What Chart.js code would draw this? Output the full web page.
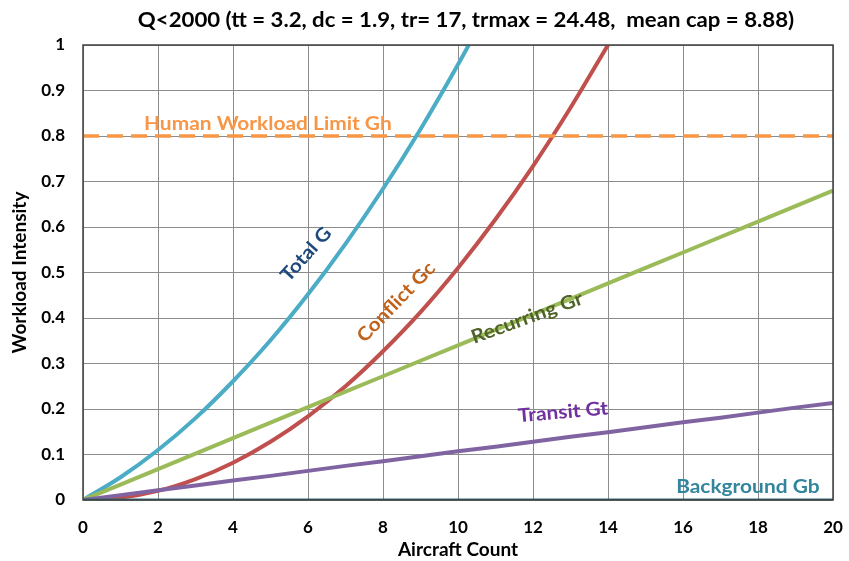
<!DOCTYPE html>
<html>
<head>
<meta charset="utf-8">
<script src="https://cdn.jsdelivr.net/npm/chart.js@4"></script>
<style>
    html, body { margin: 0; padding: 0; background: #fff; }
    #wrap { width: 849px; height: 561px; }
</style>
</head>
<body>
<div id="wrap"><canvas id="chart" width="849" height="561"></canvas></div>
<script>
// Workload intensity vs aircraft count
const aircraft = [0, 1, 2, 3, 4, 5, 6, 7, 8, 9, 10, 11, 12, 13, 14, 15, 16, 17, 18, 19, 20];
const totalG = [0, 0.05, 0.11, 0.18, 0.261, 0.351, 0.452, 0.563, 0.684, 0.815, 0.957, 1.109];
const conflictGc = [0, 0.005, 0.02, 0.046, 0.082, 0.128, 0.184, 0.25, 0.327, 0.413, 0.51, 0.617, 0.734, 0.862, 1.0];
const recurringGr = [0, 0.034, 0.068, 0.102, 0.136, 0.17, 0.204, 0.238, 0.272, 0.306, 0.34, 0.374, 0.408, 0.442, 0.476, 0.51, 0.544, 0.578, 0.612, 0.646, 0.68];
const transitGt = [0, 0.0107, 0.0214, 0.032, 0.043, 0.053, 0.064, 0.075, 0.085, 0.096, 0.107, 0.117, 0.128, 0.139, 0.149, 0.16, 0.171, 0.181, 0.192, 0.203, 0.213];
const backgroundGb = [0, 0, 0, 0, 0, 0, 0, 0, 0, 0, 0, 0, 0, 0, 0, 0, 0, 0, 0, 0, 0];
const humanLimitGh = [0.8, 0.8, 0.8, 0.8, 0.8, 0.8, 0.8, 0.8, 0.8, 0.8, 0.8, 0.8, 0.8, 0.8, 0.8, 0.8, 0.8, 0.8, 0.8, 0.8, 0.8];
const xTicks = [0, 2, 4, 6, 8, 10, 12, 14, 16, 18, 20];
const yTicks = [0, 0.1, 0.2, 0.3, 0.4, 0.5, 0.6, 0.7, 0.8, 0.9, 1];

const titleText = "Q<2000 (tt = 3.2, dc = 1.9, tr= 17, trmax = 24.48,  mean cap = 8.88)";

// in-plot labels: [text, x, y, angle(deg), colour]
const seriesLabels = [
    ["Human Workload Limit Gh", 4.93, 0.826, 0, "#f79646"],
    ["Total G", 5.95, 0.54, -48, "#1f497d"],
    ["Conflict Gc", 8.35, 0.435, -46, "#c0621a"],
    ["Recurring Gr", 11.84, 0.40, -20, "#4f6228"],
    ["Transit Gt", 12.8, 0.193, -5, "#7030a0"],
    ["Background Gb", 17.73, 0.029, 0, "#31859c"],
];

const colors = {
    total: "#4bacc6",
    conflict: "#c0504d",
    recurring: "#9bbb59",
    transit: "#8064a2",
    background: "#2b6d7c",
    human: "#f79646",
    grid: "#8c8c8c",
};

const FONT = "Lato, 'Open Sans', sans-serif";

function pts(ys) {
    return ys.map((y, i) => ({ x: aircraft[i], y: y }));
}

function line(label, ys, color, extra) {
    return Object.assign({
        label: label,
        data: pts(ys),
        borderColor: color,
        backgroundColor: color,
        borderWidth: 4,
        pointRadius: 0,
        tension: 0,
        fill: false,
    }, extra || {});
}

// draws text stretched horizontally a little (the original font is wide)
function wideText(ctx, text, x, y, angle, sx) {
    ctx.save();
    ctx.translate(x, y);
    ctx.rotate(angle * Math.PI / 180);
    ctx.scale(sx, 1);
    ctx.fillText(text, 0, 0);
    ctx.restore();
}

const labelPlugin = {
    id: "labels",
    afterDatasetsDraw(chart) {
        const ctx = chart.ctx;
        const xs = chart.scales.x, ys = chart.scales.y;
        ctx.save();
        ctx.font = "bold 19px " + FONT;
        ctx.textAlign = "center";
        ctx.textBaseline = "middle";
        seriesLabels.forEach(([t, x, y, a, c]) => {
            ctx.fillStyle = c;
            wideText(ctx, t, xs.getPixelForValue(x), ys.getPixelForValue(y), a, 1.1);
        });
        // chart title
        ctx.fillStyle = "#000";
        ctx.font = "bold 20px " + FONT;
        wideText(ctx, titleText, 466, 21, 0, 1.11);
        // plot border
        const a = chart.chartArea;
        ctx.strokeStyle = "#404040";
        ctx.lineWidth = 1.5;
        ctx.strokeRect(a.left, a.top, a.right - a.left, a.bottom - a.top);
        ctx.restore();
    },
};

new Chart(document.getElementById("chart"), {
    type: "line",
    data: {
        datasets: [
            line("Human Workload Limit Gh", humanLimitGh, colors.human, { borderDash: [16, 8], borderWidth: 3.5 }),
            line("Background Gb", backgroundGb, colors.background, { borderWidth: 3 }),
            line("Transit Gt", transitGt, colors.transit),
            line("Recurring Gr", recurringGr, colors.recurring),
            line("Conflict Gc", conflictGc, colors.conflict, { cubicInterpolationMode: "monotone" }),
            line("Total G", totalG, colors.total, { cubicInterpolationMode: "monotone" }),
        ],
    },
    options: {
        responsive: false,
        animation: false,
        layout: { padding: { top: 45, right: 16, left: 0, bottom: 0 } },
        plugins: {
            legend: { display: false },
            title: { display: false },
            tooltip: { enabled: false },
        },
        scales: {
            x: {
                type: "linear",
                min: 0,
                max: 20,
                afterBuildTicks: s => { s.ticks = xTicks.map(v => ({ value: v })); },
                afterFit: s => { s.height = 61; s.paddingLeft = 0; s.paddingRight = 0; },
                grid: { color: colors.grid, lineWidth: 1, drawTicks: false },
                border: { display: false },
                ticks: { color: "#000", padding: 17, maxRotation: 0, font: { family: FONT, size: 17, weight: "bold" } },
                title: {
                    display: true,
                    text: "Aircraft Count",
                    color: "#000",
                    padding: { top: 0, bottom: 0 },
                    font: { family: FONT, size: 19, weight: "bold" },
                },
            },
            y: {
                min: 0,
                max: 1,
                afterBuildTicks: s => { s.ticks = yTicks.map(v => ({ value: v })); },
                afterFit: s => { s.width = 83; s.paddingTop = 0; s.paddingBottom = 0; },
                grid: { color: colors.grid, lineWidth: 1, drawTicks: false },
                border: { display: false },
                ticks: {
                    color: "#000",
                    padding: 18,
                    font: { family: FONT, size: 17, weight: "bold" },
                    callback: v => String(Math.round(v * 10) / 10),
                },
                title: {
                    display: true,
                    text: "Workload Intensity",
                    color: "#000",
                    padding: { top: 8, bottom: 0 },
                    font: { family: FONT, size: 19, weight: "bold" },
                },
            },
        },
    },
    plugins: [labelPlugin],
});
</script>
</body>
</html>
